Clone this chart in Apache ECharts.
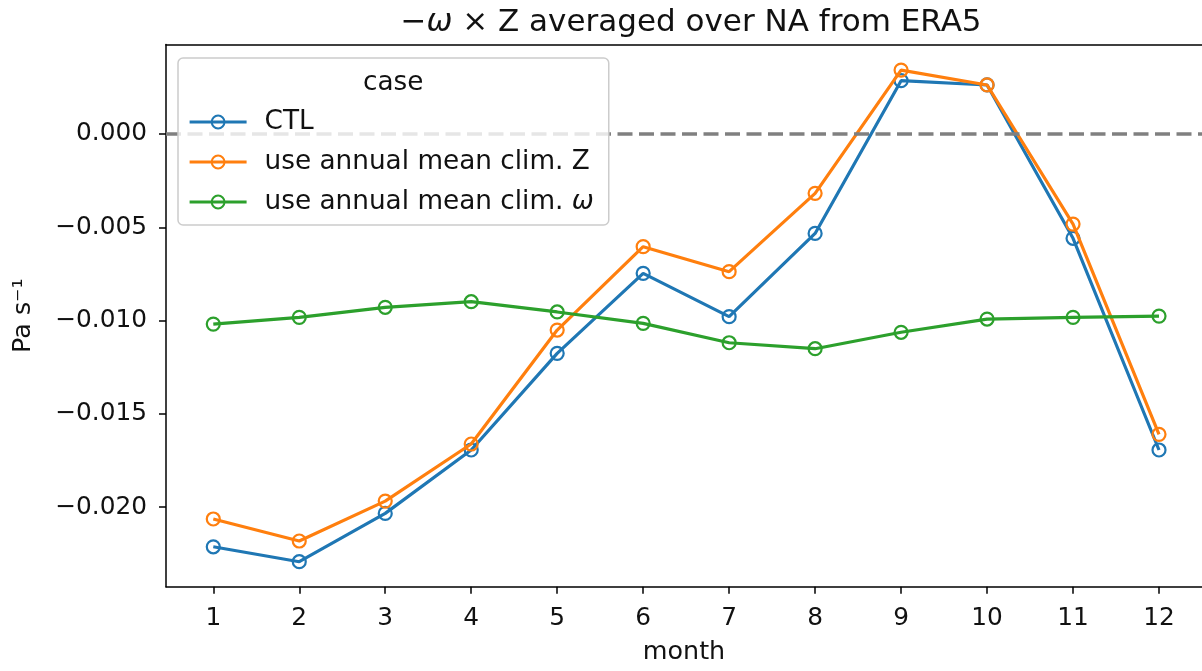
<!DOCTYPE html>
<html>
<head>
<meta charset="utf-8">
<script src="https://cdn.jsdelivr.net/npm/echarts@6/dist/echarts.min.js"></script>
<style>
  html, body { margin: 0; padding: 0; background: #fff; }
  #chart { width: 1202px; height: 671px; }
</style>
</head>
<body>
<div id="chart"></div>
<script>
const months = [1, 2, 3, 4, 5, 6, 7, 8, 9, 10, 11, 12];
const seriesNames = ['CTL', 'use annual mean clim. Z', 'use annual mean clim. ω'];
const ctl = [-0.02213, -0.02293, -0.02034, -0.01694, -0.01176, -0.00747, -0.00979, -0.00533, 0.00286, 0.00263, -0.00559, -0.01694];
const annualZ = [-0.02064, -0.02182, -0.01968, -0.01662, -0.01051, -0.00604, -0.00738, -0.00318, 0.00343, 0.00263, -0.00483, -0.01610];
const annualOmega = [-0.01019, -0.00983, -0.00929, -0.00899, -0.00954, -0.01015, -0.01119, -0.01151, -0.01063, -0.00992, -0.00983, -0.00976];
const yTicks = [-0.020, -0.015, -0.010, -0.005, 0.000];
const xTicks = months;

const FONT = 'DejaVu Sans';
const FS_TICK = 24.8;
const FS_NAME = 25.4;
const FS_LEG = 26.3;
const colors = ['#1f77b4', '#ff7f0e', '#2ca02c'];
const allValues = [ctl, annualZ, annualOmega];

function pairs(vals) { return months.map((m, i) => [m, vals[i]]); }
function fmtY(v) {
  const s = Math.abs(v).toFixed(3);
  return (v < -1e-9 ? '\u2212' : '') + s;
}

const chart = echarts.init(document.getElementById('chart'), null, { renderer: 'canvas' });

const series = seriesNames.map((name, i) => {
  const s = {
    name: name,
    type: 'line',
    xAxisIndex: 0,
    data: pairs(allValues[i]),
    symbol: 'circle',
    symbolSize: 13,
    showSymbol: true,
    lineStyle: { color: colors[i], width: 3.2 },
    itemStyle: { color: 'rgba(0,0,0,0)', borderColor: colors[i], borderWidth: 2.2 },
    emphasis: { disabled: true },
    z: 3 + i
  };
  if (i === 0) {
    s.markLine = {
      silent: true,
      symbol: 'none',
      label: { show: false },
      lineStyle: { color: '#808080', type: [15, 6.5], width: 3.5 },
      data: [{ yAxis: 0 }],
      animation: false
    };
  }
  return s;
});

chart.setOption({
  animation: false,
  backgroundColor: '#fff',
  textStyle: { fontFamily: FONT },
  title: {
    text: '\u2212{it|ω} × Z averaged over NA from ERA5',
    left: 686,
    textAlign: 'center',
    top: 2,
    textStyle: {
      fontFamily: FONT, fontSize: 31, fontWeight: 'normal', color: '#111',
      rich: { it: { fontFamily: FONT, fontSize: 31, fontStyle: 'italic', color: '#111' } }
    }
  },
  grid: {
    left: 166, top: 44.5, bottom: 84.3, right: 0,
    show: false,
    containLabel: false
  },
  legend: {
    orient: 'vertical',
    left: 178,
    top: 58,
    padding: [50, 15, 9, 10],
    itemWidth: 57,
    itemHeight: 16,
    itemGap: 12,
    backgroundColor: 'rgba(255,255,255,0.8)',
    borderColor: '#cccccc',
    borderWidth: 1.5,
    borderRadius: 5,
    data: seriesNames,
    lineStyle: { width: 3.2 },
    formatter: name => name.replace('ω', '{it|ω}'),
    textStyle: {
      fontFamily: FONT, fontSize: FS_LEG, color: '#111', lineHeight: 28,
      padding: [0, 0, 0, 13],
      rich: { it: { fontFamily: FONT, fontSize: FS_LEG, fontStyle: 'italic', color: '#111', lineHeight: 28 } }
    },
    z: 10
  },
  graphic: [{
    type: 'text',
    left: 363,
    top: 70,
    z: 100,
    style: { text: 'case', fontFamily: FONT, fontSize: FS_LEG, fill: '#111' }
  }],
  xAxis: [{
    type: 'value',
    min: 0.45,
    max: 12.5,
    name: 'month',
    nameLocation: 'middle',
    nameGap: 53,
    nameTextStyle: { fontFamily: FONT, fontSize: FS_NAME, color: '#111' },
    axisLine: { show: true, onZero: false, lineStyle: { color: '#000', width: 1.5 } },
    axisTick: { show: true, customValues: xTicks, length: 7, lineStyle: { color: '#000', width: 1.5 } },
    axisLabel: { customValues: xTicks, fontFamily: FONT, fontSize: FS_TICK, color: '#111', margin: 19 },
    splitLine: { show: false }
  }, {
    type: 'value',
    position: 'top',
    min: 0.45,
    max: 12.5,
    axisLine: { show: true, onZero: false, lineStyle: { color: '#000', width: 1.5 } },
    axisTick: { show: false },
    axisLabel: { show: false },
    splitLine: { show: false }
  }],
  yAxis: {
    type: 'value',
    min: -0.02427,
    max: 0.0048,
    name: 'Pa s\u207b\u00b9',
    nameLocation: 'middle',
    nameRotate: 90,
    nameGap: 130,
    nameTextStyle: { fontFamily: FONT, fontSize: FS_NAME, color: '#111' },
    axisLine: { show: true, onZero: false, lineStyle: { color: '#000', width: 1.5 } },
    axisTick: { show: true, customValues: yTicks, length: 7, lineStyle: { color: '#000', width: 1.5 } },
    axisLabel: { customValues: yTicks, formatter: fmtY, fontFamily: FONT, fontSize: FS_TICK, color: '#111', margin: 19 },
    splitLine: { show: false }
  },
  series: series
});
</script>
</body>
</html>
